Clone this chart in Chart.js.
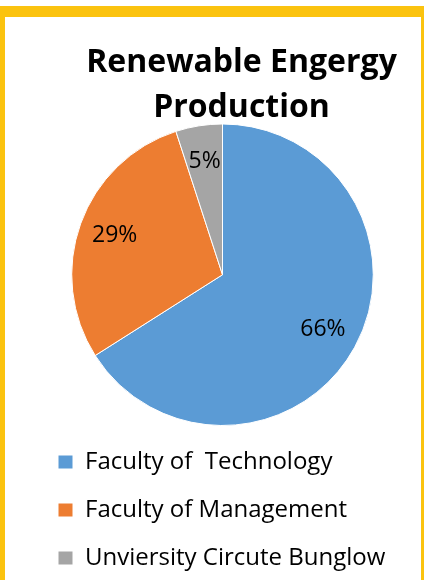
<!DOCTYPE html>
<html>
<head>
<meta charset="utf-8">
<script src="https://cdn.jsdelivr.net/npm/chart.js@4.4.1/dist/chart.umd.min.js"></script>
<style>
  html, body { margin: 0; padding: 0; background: #ffffff; overflow: hidden; width: 424px; height: 580px; }
  #frame {
    position: absolute; top: 6px; left: 0;
    width: 416px; height: 600px;
    border-top: 11px solid #FBC30F;
    border-left: 5px solid #FBC30F;
    border-right: 3px solid #FBC30F;
    background: #ffffff;
  }
  canvas { display: block; }
</style>
</head>
<body>
<div id="frame"><canvas id="c" width="416" height="563"></canvas></div>
<script>
const titleLines = ['Renewable Engergy', 'Production'];
const categories = ['Faculty of  Technology', 'Faculty of Management', 'Unviersity Circute Bunglow'];
const shares = [66, 29, 5];
const sliceColors = ['#5B9BD5', '#ED7D31', '#A5A5A5'];

const pieLabels = {
  id: 'pieLabels',
  afterDatasetsDraw(chart) {
    const ctx = chart.ctx;
    const meta = chart.getDatasetMeta(0);
    const data = chart.data.datasets[0].data;
    const total = data.reduce((a, b) => a + b, 0);
    ctx.save();
    ctx.font = '23px "Open Sans"';
    ctx.fillStyle = '#000000';
    ctx.textAlign = 'center';
    ctx.textBaseline = 'middle';
    meta.data.forEach((arc, i) => {
      const p = arc.getProps(['x', 'y', 'startAngle', 'endAngle', 'outerRadius'], true);
      const mid = (p.startAngle + p.endAngle) / 2;
      const r = p.outerRadius * 0.76;
      const pct = Math.round(data[i] / total * 100) + '%';
      ctx.fillText(pct, p.x + Math.cos(mid) * r, p.y + Math.sin(mid) * r);
    });
    ctx.restore();
  }
};

const shiftTitle = {
  id: 'shiftTitle',
  afterLayout(chart) {
    const t = chart.titleBlock;
    if (t) { t.left += 19; t.right += 19; }
  }
};

new Chart(document.getElementById('c'), {
  type: 'pie',
  data: {
    labels: categories,
    datasets: [{
      data: shares,
      backgroundColor: sliceColors,
      borderColor: '#ffffff',
      borderWidth: 1
    }]
  },
  options: {
    responsive: false,
    animation: false,
    layout: { padding: { left: 29, right: 10, top: 0, bottom: 0 } },
    plugins: {
      tooltip: { enabled: false },
      title: {
        display: true,
        text: titleLines,
        color: '#000000',
        font: { family: 'Open Sans', size: 32, weight: 'bold', lineHeight: 1.406 },
        padding: { top: 23, bottom: -6.5 }
      },
      legend: {
        display: true,
        position: 'bottom',
        align: 'start',
        labels: {
          color: '#000000',
          font: { family: 'Open Sans', size: 24 },
          boxWidth: 15,
          boxHeight: 14,
          padding: 24
        }
      }
    }
  },
  plugins: [pieLabels, shiftTitle]
});
</script>
</body>
</html>
